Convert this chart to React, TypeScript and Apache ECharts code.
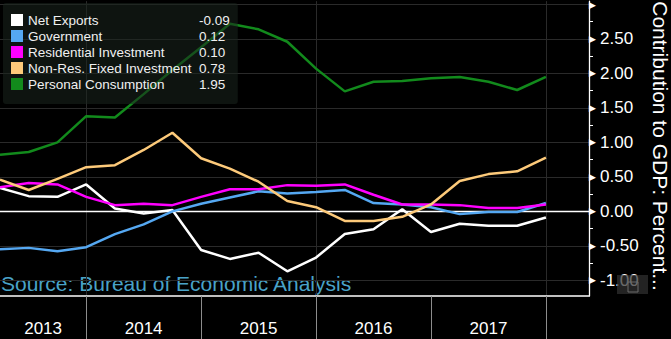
import React, { useEffect, useRef } from 'react';
import * as echarts from 'echarts';

const quarters = [
  'Q1 2013', 'Q2 2013', 'Q3 2013', 'Q4 2013',
  'Q1 2014', 'Q2 2014', 'Q3 2014', 'Q4 2014',
  'Q1 2015', 'Q2 2015', 'Q3 2015', 'Q4 2015',
  'Q1 2016', 'Q2 2016', 'Q3 2016', 'Q4 2016',
  'Q1 2017', 'Q2 2017', 'Q3 2017', 'Q4 2017',
];
const years = ['2013', '2014', '2015', '2016', '2017'];

const netExports = [0.34, 0.22, 0.21, 0.39, 0.04, -0.03, 0.02, -0.56, -0.69, -0.6, -0.87, -0.67, -0.33, -0.26, 0.03, -0.3, -0.18, -0.21, -0.21, -0.09];
const government = [-0.55, -0.53, -0.58, -0.52, -0.33, -0.19, 0.0, 0.11, 0.2, 0.29, 0.26, 0.28, 0.31, 0.12, 0.1, 0.06, -0.04, -0.01, -0.01, 0.12];
const residential = [0.35, 0.41, 0.39, 0.21, 0.09, 0.11, 0.09, 0.21, 0.32, 0.32, 0.38, 0.37, 0.39, 0.24, 0.1, 0.1, 0.09, 0.05, 0.05, 0.1];
const nonResFixed = [0.46, 0.31, 0.47, 0.64, 0.67, 0.89, 1.14, 0.77, 0.62, 0.43, 0.15, 0.06, -0.14, -0.14, -0.08, 0.1, 0.44, 0.54, 0.58, 0.78];
const personal = [0.82, 0.86, 1.0, 1.38, 1.36, 1.7, 2.05, 2.38, 2.72, 2.64, 2.46, 2.07, 1.74, 1.88, 1.89, 1.93, 1.95, 1.88, 1.76, 1.95];

const seriesNames = ['Net Exports', 'Government', 'Residential Investment', 'Non-Res. Fixed Investment', 'Personal Consumption'];
const seriesValues = [netExports, government, residential, nonResFixed, personal];
const seriesColors = ['#ffffff', '#55a8f2', '#ff00ff', '#fdca7a', '#128a1c'];

const yMajorTicks = [-1, -0.5, 0, 0.5, 1, 1.5, 2, 2.5, 3];
const yMinorTicks = [-0.75, -0.25, 0.25, 0.75, 1.25, 1.75, 2.25, 2.75];

const yAxisTitle = 'Contribution to GDP: Percent...';
const sourceText = 'Source: Bureau of Economic Analysis';

const FONT = 'Liberation Sans';

export default function App() {
  const ref = useRef<HTMLDivElement>(null);

  useEffect(() => {
    if (!ref.current) return;
    const chart = echarts.init(ref.current, null, { renderer: 'svg' });

    const yearOf = (q: string) => q.split(' ')[1];
    const yearCenters: number[] = [];
    const yearEnds: number[] = [];
    years.forEach((y) => {
      const idx = quarters.map((q, i) => (yearOf(q) === y ? i : -1)).filter((i) => i >= 0);
      const first = Math.min(...idx);
      const last = Math.max(...idx);
      const start = Math.max(first - 1, 0);
      yearCenters.push((start + last) / 2);
      yearEnds.push(last);
    });
    const gridYears = yearEnds.filter((_, k) => k % 2 === 0);

    const option: any = {
      animation: false,
      backgroundColor: '#000000',
      grid: { left: 0, right: 82, top: 0, bottom: 43 },
      legend: {
        orient: 'vertical',
        left: 3,
        top: 3,
        padding: [10, 8, 13, 8],
        itemGap: 2,
        itemWidth: 12,
        itemHeight: 12,
        icon: 'rect',
        selectedMode: false,
        backgroundColor: 'rgba(26,36,30,0.55)',
        borderRadius: 3,
        data: seriesNames,
        formatter: (name: string) => {
          const k = seriesNames.indexOf(name);
          const vals = seriesValues[k];
          return `{n|${name}}{v|${vals[vals.length - 1].toFixed(2)}}`;
        },
        textStyle: {
          color: '#f0f0f0',
          fontFamily: FONT,
          fontSize: 13.5,
          rich: {
            n: { width: 171, fontSize: 13.5, lineHeight: 14, color: '#f0f0f0', fontFamily: FONT },
            v: { width: 30, fontSize: 13.5, lineHeight: 14, color: '#f0f0f0', fontFamily: FONT },
          },
        },
      },
      xAxis: [
        {
          type: 'value',
          min: 0,
          max: 20.5,
          position: 'bottom',
          axisLine: { show: true, onZero: true, lineStyle: { color: '#ffffff', width: 1.3 } },
          axisTick: { show: false, customValues: gridYears },
          axisLabel: { show: false },
          splitLine: { show: true, lineStyle: { color: '#2a2a2a', width: 1 } },
        },
        {
          type: 'value',
          min: 0,
          max: 20.5,
          position: 'bottom',
          axisLine: { show: true, onZero: false, lineStyle: { color: '#ffffff', width: 1.5 } },
          axisTick: { show: true, length: 43, customValues: yearEnds, lineStyle: { color: '#8c8c8c', width: 1 } },
          axisLabel: {
            show: true,
            customValues: yearCenters,
            margin: 24,
            color: '#ffffff',
            fontFamily: FONT,
            fontSize: 17,
            formatter: (v: number) => {
              let best = 0;
              yearCenters.forEach((c, k) => {
                if (Math.abs(c - v) < Math.abs(yearCenters[best] - v)) best = k;
              });
              return years[best];
            },
          },
          splitLine: { show: false },
        },
      ],
      yAxis: [
        {
          type: 'value',
          position: 'right',
          min: -1.228,
          max: 3.049,
          axisLine: { show: true, onZero: false, lineStyle: { color: '#ffffff', width: 1.3 } },
          axisTick: { show: false, customValues: yMajorTicks },
          axisLabel: {
            show: true,
            customValues: yMajorTicks,
            margin: 0,
            color: '#ffffff',
            fontFamily: FONT,
            fontSize: 17,
            formatter: (v: number) => (v >= 3 ? '{t|▶}' : `{t|▶}{v|${v.toFixed(2)}}`),
            rich: {
              t: { fontFamily: 'DejaVu Sans', fontSize: 9, width: 11, color: '#ffffff', align: 'left' },
              v: { fontFamily: FONT, fontSize: 17, color: '#ffffff' },
            },
          },
          splitLine: { show: true, lineStyle: { color: '#2a2a2a', width: 1 } },
        },
        {
          type: 'value',
          position: 'right',
          min: -1.228,
          max: 3.049,
          axisLine: { show: false, onZero: false },
          axisTick: { show: true, length: 4, customValues: yMinorTicks, lineStyle: { color: '#ffffff', width: 1 } },
          axisLabel: { show: false },
          splitLine: { show: false },
        },
      ],
      series: seriesNames.map((name, k) => ({
        name,
        type: 'line',
        xAxisIndex: 0,
        yAxisIndex: 0,
        data: seriesValues[k].map((v, i) => [i, v]),
        showSymbol: false,
        symbol: 'none',
        color: seriesColors[k],
        lineStyle: { color: seriesColors[k], width: 2.5 },
        itemStyle: { color: seriesColors[k] },
        silent: true,
        z: 2 + k * 0.01,
      })),
      graphic: [
        {
          type: 'text',
          left: 1,
          top: 273,
          silent: true,
          style: { text: sourceText, fill: '#4aa3c8', fontFamily: FONT, fontSize: 21 },
        },
        {
          type: 'text',
          x: 660,
          y: 146,
          rotation: -Math.PI / 2,
          silent: true,
          style: {
            text: yAxisTitle,
            fill: '#ffffff',
            fontFamily: FONT,
            fontSize: 21,
            align: 'center',
            verticalAlign: 'middle',
          },
        },
        {
          type: 'rect',
          z: 100,
          silent: true,
          shape: { x: 617, y: 275, width: 31, height: 19 },
          style: { fill: 'rgba(48,48,48,0.72)' },
        },
        {
          type: 'rect',
          z: 101,
          silent: true,
          shape: { x: 628, y: 282, width: 10, height: 10 },
          style: { fill: 'none', stroke: '#6a6a6a', lineWidth: 1 },
        },
      ],
    };

    chart.setOption(option);
    return () => chart.dispose();
  }, []);

  return (
    <div
      ref={ref}
      style={{ position: 'fixed', left: 0, top: 0, width: 671, height: 339, background: '#000' }}
    />
  );
}
